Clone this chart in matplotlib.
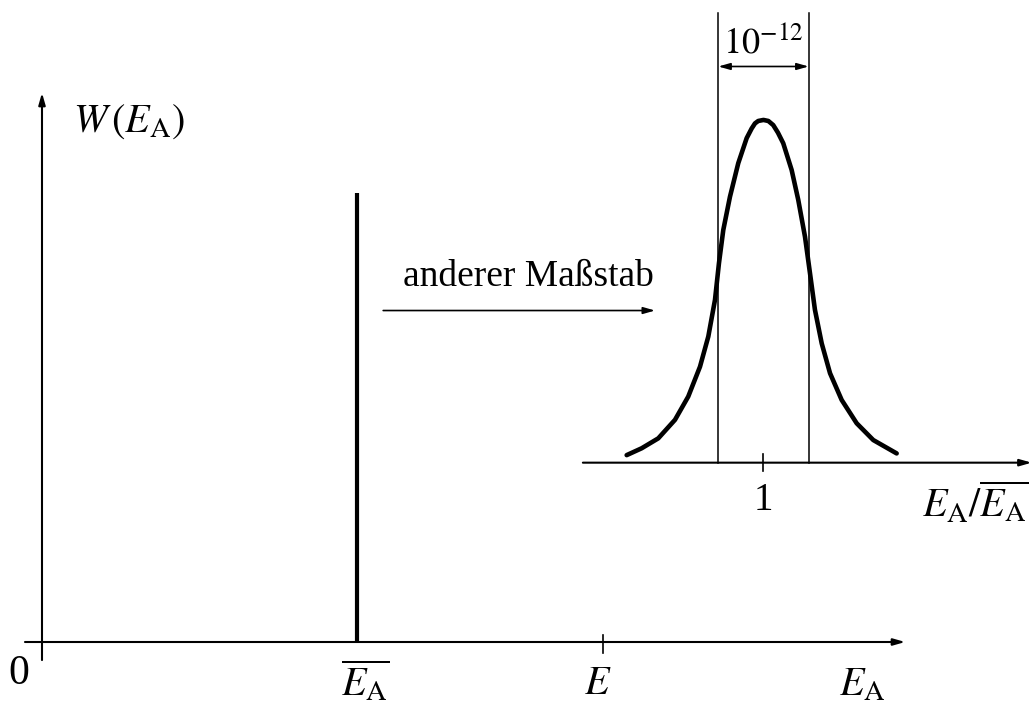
#!/usr/bin/python
import matplotlib
matplotlib.use("Agg")
import matplotlib.pyplot as plt

# main sketch: energy axis in units of the mean energy, W relative
mean_energy = 1.0
energy_E = 1.78
spike_height = 0.82
main_tick_labels = ["0", r"$\overline{E_\mathrm{A}}$", r"$E$", r"$E_\mathrm{A}$"]

# inset: (E_A/mean - 1) in units of 1e-12, W relative to its maximum
ratio_offset = [-1.515, -1.349, -1.165, -0.980, -0.833, -0.703, -0.611, -0.537,
                -0.493, -0.445, -0.371, -0.279, -0.186, -0.131, -0.094, -0.058, 0.0,
                0.054, 0.108, 0.160, 0.219, 0.312, 0.385, 0.460, 0.515, 0.570, 0.645,
                0.737, 0.866, 1.032, 1.216, 1.475]
ratio_prob = [0.022, 0.042, 0.071, 0.125, 0.193, 0.280, 0.368, 0.475,
              0.582, 0.679, 0.776, 0.874, 0.947, 0.975, 0.990, 0.997, 1.000,
              0.997, 0.985, 0.963, 0.932, 0.854, 0.767, 0.659, 0.553, 0.446, 0.348,
              0.261, 0.183, 0.115, 0.066, 0.027]
width_bounds = [-0.5, 0.5]
width_label = r"$10^{-12}$"


def arrow(ax, x0, y0, x1, y1, lw=1.5, style="-|>,head_length=0.7,head_width=0.2"):
    ax.annotate("", xy=(x1, y1), xytext=(x0, y0),
                arrowprops=dict(arrowstyle=style, lw=lw, color="black",
                                shrinkA=0, shrinkB=0))


def main():
    plt.rcParams["mathtext.fontset"] = "stix"
    plt.rcParams["font.family"] = ["Liberation Serif", "DejaVu Serif"]
    fs = 29

    fig = plt.figure()
    fig.set_figwidth(10.35)
    fig.set_figheight(7.06)
    fig.set_dpi(100)

    # main plot, drawn on a frameless axes over the whole figure
    ax = fig.add_axes([0, 0, 1, 1])
    ax.set_xlim(-0.1333, 3.152)
    ax.set_ylim(-0.117, 1.1737)
    ax.axis("off")

    arrow(ax, -0.054, 0, 2.74, 0)
    arrow(ax, 0, -0.033, 0, 1.004)
    ax.plot([mean_energy, mean_energy], [0, spike_height], color="black", lw=3.0,
            solid_capstyle="butt")
    ax.plot([energy_E, energy_E], [-0.02, 0.013], color="black", lw=1.2)

    ax.text(-0.073, -0.058, main_tick_labels[0], fontsize=30, ha="center", va="center")
    ax.text(mean_energy + 0.025, -0.073, main_tick_labels[1], fontsize=fs,
            ha="center", va="center")
    ax.text(1.765, -0.077, main_tick_labels[2], fontsize=fs, ha="center", va="center")
    ax.text(2.603, -0.080, main_tick_labels[3], fontsize=fs, ha="center", va="center")
    ax.text(0.098, 0.951, r"$W\,(E_\mathrm{A})$", fontsize=fs, ha="left", va="center")

    ax.text(1.543, 0.667, "anderer Maßstab", fontsize=27, ha="center", va="center")
    arrow(ax, 1.083, 0.606, 1.946, 0.606, lw=1.2)

    # inset with the sharp peak on a different scale
    ax2 = fig.add_axes([0, 0, 1, 1])
    ax2.set_xlim(-8.455, 3.007)
    ax2.set_ylim(-0.710, 1.350)
    ax2.axis("off")
    ax2.patch.set_alpha(0)

    arrow(ax2, -2.0, 0, 2.97, 0)
    ax2.plot(ratio_offset, ratio_prob, color="black", lw=3.3, solid_capstyle="round",
             solid_joinstyle="round")
    for b in width_bounds:
        ax2.plot([b, b], [0, 1.313], color="black", lw=1.1)
    ax2.plot([0, 0], [-0.025, 0.026], color="black", lw=1.2)
    ax2.annotate("", xy=(width_bounds[0], 1.156), xytext=(width_bounds[1], 1.156),
                 arrowprops=dict(arrowstyle="<|-|>,head_length=0.7,head_width=0.2",
                                 lw=1.2, color="black", shrinkA=0, shrinkB=0))
    ax2.text(0, 1.225, width_label, fontsize=26, ha="center", va="center")
    ax2.text(0, -0.11, "1", fontsize=28, ha="center", va="center")
    ax2.text(2.35, -0.12, r"$E_\mathrm{A}/\overline{E_\mathrm{A}}$", fontsize=fs,
             ha="center", va="center")

    plt.savefig("out.png", dpi=100)


if __name__ == "__main__":
    main()
